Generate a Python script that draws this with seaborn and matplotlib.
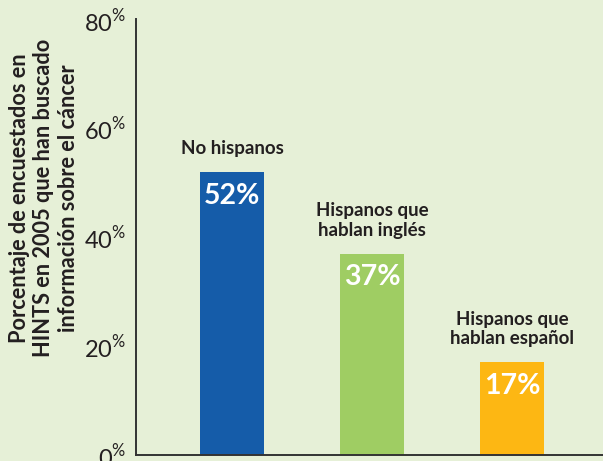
import matplotlib
matplotlib.use("Agg")
import matplotlib.pyplot as plt
import seaborn as sns

# data
categories = ["No hispanos", "Hispanos que\nhablan inglés", "Hispanos que\nhablan español"]
values = [52, 37, 17]
value_labels = ["52%", "37%", "17%"]
bar_colors = ["#155ca9", "#9fcd63", "#fdb713"]
y_ticks = [0, 20, 40, 60, 80]
y_label = "Porcentaje de encuestados en\nHINTS en 2005 que han buscado\ninformación sobre el cáncer"

bg = "#e6f0d7"
sns.set_style("white")
plt.rcParams["font.family"] = ["Lato", "DejaVu Sans"]
plt.rcParams["mathtext.fontset"] = "custom"
plt.rcParams["mathtext.rm"] = "Lato"

fig = plt.figure(figsize=(6.03, 4.61), dpi=100, facecolor=bg)
ax = fig.add_axes([136 / 603, 6 / 461, 1 - 136 / 603, (455 - 19.5) / 461])
ax.set_facecolor(bg)

sns.barplot(x=categories, y=values, hue=categories, palette=bar_colors,
            legend=False, width=0.457, saturation=1, linewidth=0, ax=ax)

ax.set_xlim(-0.686, 2.65)
ax.set_ylim(0, 80)
ax.set_xticks([])
ax.set_xlabel("")
ax.set_ylabel("")
ax.set_yticks(y_ticks)
ax.set_yticklabels([rf"{t}$^{{\%}}$" for t in y_ticks], fontsize=17, color="#231f20")
ax.tick_params(axis="y", direction="in", length=11, width=1.2, color="#333333", pad=7)

for side in ["top", "right"]:
    ax.spines[side].set_visible(False)
for side in ["left", "bottom"]:
    ax.spines[side].set_color("#333333")
    ax.spines[side].set_linewidth(1.4)

for i, (cat, v, lab) in enumerate(zip(categories, values, value_labels)):
    ax.annotate(cat, (i, v), xytext=(0, 13), textcoords="offset points",
                ha="center", va="baseline", fontsize=13.5, fontweight="bold",
                color="#231f20", linespacing=1.15)
    ax.annotate(lab, (i, v), xytext=(0, -17), textcoords="offset points",
                ha="center", va="center", fontsize=20.5, fontweight="bold",
                color="white")

fig.text(44 / 603, 1 - 198 / 461, y_label, rotation=90, ha="center", va="center",
         fontsize=15.7, fontweight="bold", color="#231f20", linespacing=1.22,
         multialignment="center")

fig.savefig("out.png", dpi=100, facecolor=bg)
